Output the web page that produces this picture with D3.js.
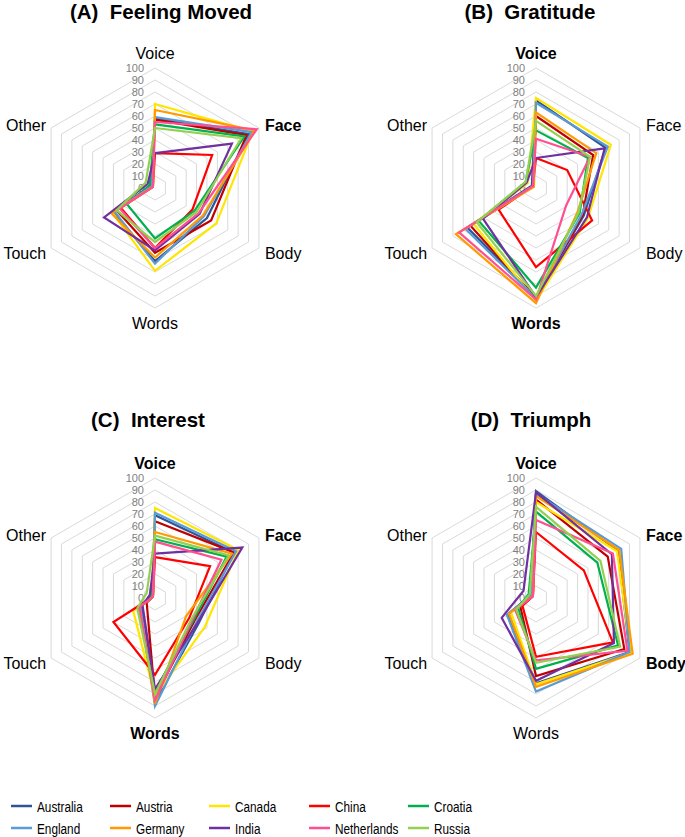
<!DOCTYPE html>
<html>
<head>
<meta charset="utf-8">
<script src="https://cdn.jsdelivr.net/npm/d3@7"></script>
<style>
  html, body { margin: 0; padding: 0; background: #fff; }
  svg text { font-family: "Liberation Sans", Arial, sans-serif; }
</style>
</head>
<body>
<svg id="chart" width="685" height="837"></svg>
<script>
// ---------- data ----------
const axes = ["Voice", "Face", "Body", "Words", "Touch", "Other"];
const countries = ["Australia", "Austria", "Canada", "China", "Croatia",
                   "England", "Germany", "India", "Netherlands", "Russia"];
const colors = ["#2F5597", "#C00000", "#FFE500", "#FF0000", "#00B050",
                "#5B9BD5", "#FF9A00", "#7030A0", "#FF4F90", "#92D050"];
const ticks = [0, 10, 20, 30, 40, 50, 60, 70, 80, 90, 100];

const panelTitles = ["(A)  Feeling Moved", "(B)  Gratitude", "(C)  Interest", "(D)  Triumph"];
// which axis labels are bold, per panel
const boldAxes = [["Face"], ["Voice", "Words"], ["Voice", "Face", "Words"], ["Voice", "Face", "Body"]];

// values per country, axis order: Voice, Face, Body, Words, Touch, Other
const movedValues = [
  [58, 90, 50, 61, 40, 4],
  [57, 88, 54, 54, 37, 3],
  [70, 94, 59, 69, 41, 2],
  [29, 55, 36, 50, 33, 2],
  [53, 86, 38, 42, 27, 5],
  [59, 93, 47, 63, 39, 3],
  [65, 96, 46, 58, 42, 2],
  [29, 74, 43, 52, 49, 7],
  [55, 98, 42, 50, 34, 2],
  [50, 83, 40, 45, 37, 9]
];
const gratitudeValues = [
  [73, 67, 46, 91, 66, 4],
  [60, 55, 45, 92, 63, 3],
  [75, 72, 50, 94, 60, 8],
  [25, 30, 54, 66, 36, 3],
  [48, 50, 42, 83, 55, 10],
  [71, 69, 44, 92, 68, 3],
  [63, 58, 40, 96, 77, 2],
  [25, 66, 49, 91, 51, 9],
  [41, 52, 29, 93, 74, 3],
  [56, 52, 41, 90, 57, 10]
];
const interestValues = [
  [69, 76, 42, 87, 13, 3],
  [64, 76, 38, 83, 8, 2],
  [75, 80, 48, 82, 21, 2],
  [34, 53, 33, 64, 40, 2],
  [49, 69, 37, 78, 16, 3],
  [71, 78, 40, 90, 14, 2],
  [55, 74, 30, 88, 15, 2],
  [37, 84, 41, 76, 12, 5],
  [47, 64, 36, 85, 15, 2],
  [52, 71, 35, 80, 17, 8]
];
const triumphValues = [
  [89, 79, 90, 71, 27, 5],
  [82, 69, 85, 65, 15, 3],
  [80, 78, 91, 72, 24, 3],
  [55, 46, 74, 49, 13, 3],
  [72, 59, 79, 59, 17, 7],
  [87, 82, 90, 78, 28, 4],
  [85, 80, 93, 74, 26, 3],
  [88, 73, 75, 69, 33, 12],
  [65, 74, 88, 52, 20, 3],
  [76, 62, 81, 54, 19, 6]
];
const panelValues = [movedValues, gratitudeValues, interestValues, triumphValues];

// ---------- layout ----------
const svg = d3.select("#chart");
svg.append("rect").attr("width", 685).attr("height", 837).attr("fill", "#fff");

const R = 120;
const r = d3.scaleLinear().domain([0, 100]).range([0, R]);
const angle = d3.scalePoint().domain(axes).range([0, 2 * Math.PI * 5 / 6]);
const centers = [[155, 188], [536, 188], [155, 598], [536, 598]];
const titleY = [12, 12, 420, 420];
const titleX = [161, 530, 148, 531];

function pt(a, v) {
  const t = angle(a);
  return [r(v) * Math.sin(t), -r(v) * Math.cos(t)];
}

panelValues.forEach((vals, pi) => {
  const [cx, cy] = centers[pi];
  const g = svg.append("g").attr("transform", `translate(${cx},${cy})`);

  // grid hexagons
  ticks.slice(1).forEach(tv => {
    g.append("path")
      .attr("d", d3.line()(axes.map(a => pt(a, tv))) + "Z")
      .attr("fill", "none").attr("stroke", "#d9d9d9").attr("stroke-width", 1);
  });

  // tick labels
  g.selectAll("text.tick").data(ticks).join("text")
    .attr("class", "tick")
    .attr("x", -11).attr("y", d => -r(d))
    .attr("dy", "0.36em")
    .attr("text-anchor", "end")
    .attr("font-size", 11).attr("fill", "#7f7f7f")
    .text(d => d);

  // series
  const line = d3.lineRadial()
    .angle((d, i) => angle(axes[i]))
    .radius(d => r(d))
    .curve(d3.curveLinearClosed);
  vals.forEach((row, ci) => {
    g.append("path")
      .attr("d", line(row))
      .attr("fill", "none")
      .attr("stroke", colors[ci])
      .attr("stroke-width", 2.2)
      .attr("stroke-linejoin", "miter");
  });

  // axis labels
  axes.forEach(a => {
    const t = angle(a);
    const sx = Math.sin(t), syv = -Math.cos(t);
    let x, y, anchor;
    if (Math.abs(sx) < 0.01) {
      x = 0; y = syv < 0 ? -R - 15 : R + 15; anchor = "middle";
    } else {
      x = sx * R + (sx > 0 ? 6 : -5);
      y = syv * R + (syv < 0 ? -3 : 5);
      anchor = sx > 0 ? "start" : "end";
    }
    g.append("text")
      .attr("x", x).attr("y", y).attr("dy", "0.36em")
      .attr("text-anchor", anchor)
      .attr("font-size", 16)
      .attr("font-weight", boldAxes[pi].includes(a) ? "bold" : "normal")
      .attr("fill", "#000")
      .text(a);
  });

  // title
  svg.append("text")
    .attr("x", titleX[pi]).attr("y", titleY[pi]).attr("dy", "0.36em")
    .attr("text-anchor", "middle")
    .attr("font-size", 20.5).attr("font-weight", "bold")
    .style("white-space", "pre")
    .text(panelTitles[pi]);
});

// ---------- legend ----------
const legX = [11, 110, 209, 309, 408];
const legY = [806, 828];
countries.forEach((c, i) => {
  const col = i % 5, row = Math.floor(i / 5);
  const lx = legX[col], ly = legY[row];
  svg.append("line")
    .attr("x1", lx).attr("x2", lx + 21).attr("y1", ly).attr("y2", ly)
    .attr("stroke", colors[i]).attr("stroke-width", 2.5);
  svg.append("text")
    .attr("transform", `translate(${lx + 26},${ly}) scale(0.76,1)`)
    .attr("dy", "0.36em")
    .attr("font-size", 15.5)
    .attr("fill", "#000")
    .text(c);
});
</script>
</body>
</html>
